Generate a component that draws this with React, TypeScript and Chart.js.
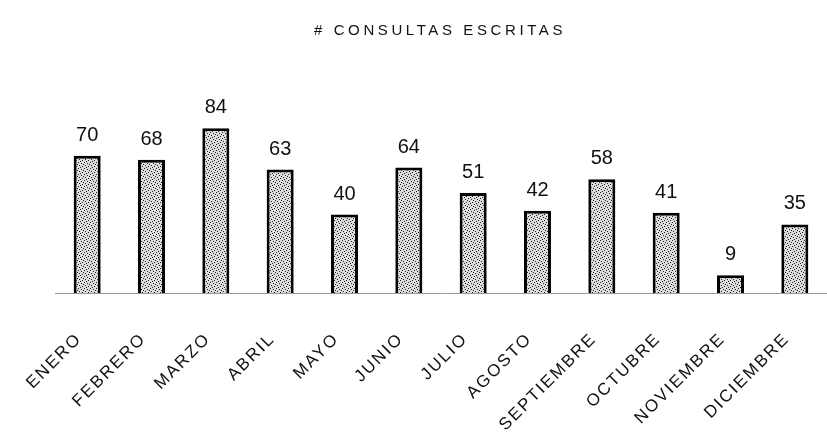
import React, { useEffect, useRef } from "react";
import { Chart, registerables } from "chart.js";

Chart.register(...registerables);

const months = ["ENERO", "FEBRERO", "MARZO", "ABRIL", "MAYO", "JUNIO", "JULIO", "AGOSTO", "SEPTIEMBRE", "OCTUBRE", "NOVIEMBRE", "DICIEMBRE"];
const consultas = [70, 68, 84, 63, 40, 64, 51, 42, 58, 41, 9, 35];
const chartTitle = "# CONSULTAS ESCRITAS";

function makePattern(): CanvasPattern | string {
  const c = document.createElement("canvas");
  c.width = 6;
  c.height = 6;
  const g = c.getContext("2d");
  if (!g) return "#bbbbbb";
  g.fillStyle = "#dcdcdc";
  g.fillRect(0, 0, 6, 6);
  g.fillStyle = "#222";
  const dots = [[0, 0], [3, 1], [1, 3], [4, 4], [5, 2], [2, 5]];
  dots.forEach(([x, y]) => g.fillRect(x, y, 1, 1));
  const p = g.createPattern(c, "repeat");
  return p || "#bbbbbb";
}

const spacing = {
  id: "spacing",
  beforeDraw(chart: any) {
    (chart.ctx as any).letterSpacing = "2px";
  },
  beforeDatasetsDraw(chart: any) {
    (chart.ctx as any).letterSpacing = "0px";
  },
};

const valueLabels = {
  id: "valueLabels",
  afterDatasetsDraw(chart: any) {
    const ctx = chart.ctx;
    const meta = chart.getDatasetMeta(0);
    ctx.save();
    (ctx as any).letterSpacing = "0px";
    ctx.font = "20px 'Liberation Sans', sans-serif";
    ctx.fillStyle = "#111";
    ctx.textAlign = "center";
    ctx.textBaseline = "alphabetic";
    meta.data.forEach((el: any, i: number) => {
      ctx.fillText(String(consultas[i]), el.x, el.y - 15);
    });
    ctx.restore();
  },
};

const spacedTitle = {
  id: "spacedTitle",
  afterDraw(chart: any) {
    const ctx = chart.ctx;
    ctx.save();
    ctx.font = "15px 'Liberation Sans', sans-serif";
    ctx.fillStyle = "#111";
    (ctx as any).letterSpacing = "3.6px";
    ctx.textAlign = "center";
    ctx.textBaseline = "alphabetic";
    ctx.fillText(chartTitle, 440, 35);
    ctx.restore();
  },
};

export default function App() {
  const ref = useRef<HTMLCanvasElement | null>(null);
  useEffect(() => {
    document.body.style.margin = "0";
    document.body.style.overflow = "hidden";
    if (!ref.current) return;
    const chart = new Chart(ref.current, {
      type: "bar",
      data: {
        labels: months,
        datasets: [
          {
            data: consultas,
            backgroundColor: makePattern() as any,
            borderColor: "#000",
            borderWidth: 3,
            barPercentage: 0.42,
            categoryPercentage: 1,
          },
        ],
      },
      options: {
        animation: false,
        responsive: false,
        layout: { padding: { left: 55, right: -2, top: 97, bottom: 0 } },
        plugins: {
          legend: { display: false },
          tooltip: { enabled: false },
          title: { display: false },
        },
        scales: {
          y: {
            display: false,
            min: 0,
            max: 100,
          },
          x: {
            afterFit(scale: any) {
              scale.height = 139;
              scale.paddingLeft = 0;
              scale.paddingRight = 0;
            },
            grid: { display: false, drawTicks: false },
            border: { display: true, color: "#999", dash: [2, 8], width: 1 },
            ticks: {
              color: "#111",
              maxRotation: 45,
              minRotation: 45,
              autoSkip: false,
              padding: 36,
              labelOffset: -8,
              font: { family: "'Liberation Sans', sans-serif", size: 17 },
            },
          },
        },
      },
      plugins: [spacing, valueLabels, spacedTitle],
    });
    return () => chart.destroy();
  }, []);
  return <canvas ref={ref} width={827} height={432} style={{ display: "block" }} />;
}
